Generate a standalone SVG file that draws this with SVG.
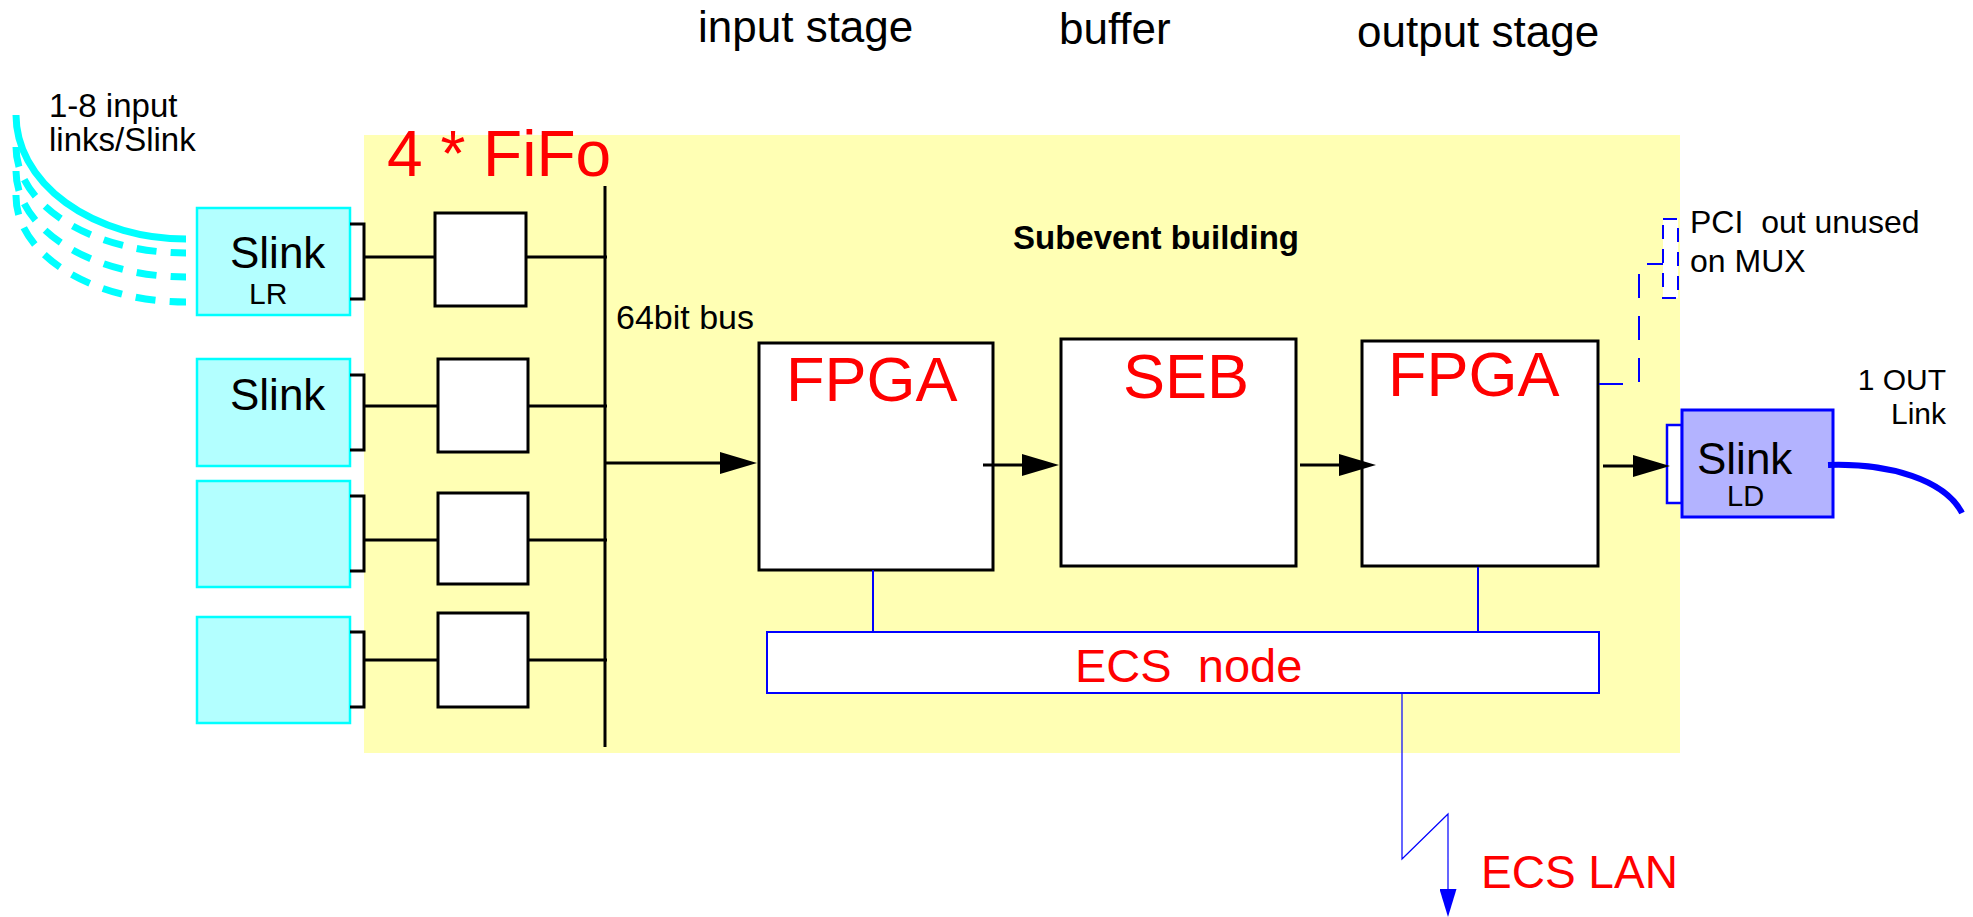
<svg xmlns="http://www.w3.org/2000/svg" width="1973" height="917" viewBox="0 0 1973 917">
<style>
text{font-family:"Liberation Sans",Arial,sans-serif;}
.blk{fill:#000;}
.red{fill:#FF0000;}
.box{fill:#FFFFFF;stroke:#000;stroke-width:3;}
.cy{fill:#B3FFFF;stroke:#00FFFF;stroke-width:2.5;}
.ln{stroke:#000;stroke-width:3;fill:none;}
.bl{stroke:#0000FF;stroke-width:2;fill:none;}
.cyarc{stroke:#00FFFF;stroke-width:7;fill:none;}
.cydash{stroke:#00FFFF;stroke-width:7;fill:none;stroke-dasharray:20 14;}
</style>
<defs>
<marker id="ah" markerUnits="userSpaceOnUse" markerWidth="37" markerHeight="22" refX="7" refY="11" orient="auto" viewBox="0 0 37 22">
<path d="M0,0 L37,11 L0,22 z" fill="#000"/>
</marker>
<marker id="bh" markerUnits="userSpaceOnUse" markerWidth="28" markerHeight="17" refX="8" refY="8.5" orient="auto" viewBox="0 0 28 17">
<path d="M0,0 L28,8.5 L0,17 z" fill="#0000FF"/>
</marker>
</defs>
<rect x="0" y="0" width="1973" height="917" fill="#FFFFFF"/>
<g id="background">
<rect x="364" y="135" width="1316" height="618" fill="#FFFFB4"/>
</g>
<g id="labels">
<text x="698" y="42" font-size="44" class="blk">input stage</text>
<text x="1059" y="44" font-size="44" class="blk">buffer</text>
<text x="1357" y="47" font-size="44" class="blk">output stage</text>
<text x="49" y="117" font-size="33" class="blk">1-8 input</text>
<text x="49" y="151" font-size="33" class="blk">links/Slink</text>
<text x="387" y="176" font-size="64" class="red">4 * FiFo</text>
<text x="1013" y="249" font-size="33" font-weight="bold" class="blk">Subevent building</text>
<text x="616" y="329" font-size="34" class="blk">64bit bus</text>
<text x="1690" y="233" font-size="32" class="blk" xml:space="preserve">PCI  out unused</text>
<text x="1690" y="272" font-size="32" class="blk">on MUX</text>
<text x="1946" y="390" font-size="30" class="blk" text-anchor="end">1 OUT</text>
<text x="1946" y="424" font-size="30" class="blk" text-anchor="end">Link</text>
<text x="1481" y="888" font-size="46" class="red">ECS LAN</text>
</g>
<g id="input-links">
<path class="cyarc" d="M16,115 A170,124 0 0 0 186,239"/>
<path class="cydash" d="M16,147 A170,106 0 0 0 186,253"/>
<path class="cydash" d="M16,171 A170,106 0 0 0 186,277"/>
<path class="cydash" d="M16,195 A170,106 0 0 0 186,302"/>
</g>
<g id="slink1">
<rect class="cy" x="197" y="208" width="153" height="107"/>
<text x="230" y="268" font-size="44" class="blk">Slink</text>
<text x="249" y="304" font-size="30" class="blk">LR</text>
</g>
<g id="slink2">
<rect class="cy" x="197" y="359" width="153" height="107"/>
<text x="230" y="410" font-size="44" class="blk">Slink</text>
</g>
<g id="slink3">
<rect class="cy" x="197" y="481" width="153" height="106"/>
</g>
<g id="slink4">
<rect class="cy" x="197" y="617" width="153" height="106"/>
</g>
<g id="fifo1"><rect class="box" x="435" y="213" width="91" height="93"/></g>
<g id="fifo2"><rect class="box" x="438" y="359" width="90" height="93"/></g>
<g id="fifo3"><rect class="box" x="438" y="493" width="90" height="91"/></g>
<g id="fifo4"><rect class="box" x="438" y="613" width="90" height="94"/></g>
<g id="fpga1">
<rect class="box" x="759" y="343" width="234" height="227"/>
<text x="786" y="401" font-size="63" class="red">FPGA</text>
</g>
<g id="seb">
<rect class="box" x="1061" y="339" width="235" height="227"/>
<text x="1123" y="398" font-size="63" class="red">SEB</text>
</g>
<g id="fpga2">
<rect class="box" x="1362" y="341" width="236" height="225"/>
<text x="1388" y="396" font-size="63" class="red">FPGA</text>
</g>
<g id="pci-out">
<rect x="1663" y="219" width="15" height="79" fill="#FFFFFF" stroke="#0000FF" stroke-width="2" stroke-dasharray="14 10"/>
</g>
<g id="ecs-node">
<rect x="767" y="632" width="832" height="61" fill="#FFFFFF" stroke="#0000FF" stroke-width="2"/>
<text x="1075" y="682" font-size="47" class="red" xml:space="preserve">ECS  node</text>
</g>
<g id="slink-ld">
<rect x="1667" y="425" width="15" height="78" fill="#FFFFFF" stroke="#0000FF" stroke-width="2.5"/>
<rect x="1682" y="410" width="151" height="107" fill="#B3B3FF" stroke="#0000FF" stroke-width="3"/>
<text x="1697" y="474" font-size="44" class="blk">Slink</text>
<text x="1727" y="506" font-size="29" class="blk">LD</text>
</g>
<g id="connectors">
<path class="ln" d="M350,224 H364 V299 H350"/>
<path class="ln" d="M350,375 H364 V450 H350"/>
<path class="ln" d="M350,496 H364 V571 H350"/>
<path class="ln" d="M350,632 H364 V707 H350"/>
<line class="ln" x1="364" y1="257" x2="435" y2="257"/>
<line class="ln" x1="526" y1="257" x2="607" y2="257"/>
<line class="ln" x1="364" y1="406" x2="438" y2="406"/>
<line class="ln" x1="528" y1="406" x2="607" y2="406"/>
<line class="ln" x1="364" y1="540" x2="438" y2="540"/>
<line class="ln" x1="528" y1="540" x2="607" y2="540"/>
<line class="ln" x1="364" y1="660" x2="438" y2="660"/>
<line class="ln" x1="528" y1="660" x2="607" y2="660"/>
<line class="ln" x1="605" y1="186" x2="605" y2="747"/>
<line class="ln" x1="605" y1="463" x2="727" y2="463" marker-end="url(#ah)"/>
<line class="ln" x1="983" y1="465" x2="1029" y2="465" marker-end="url(#ah)"/>
<line class="ln" x1="1300" y1="465" x2="1346" y2="465" marker-end="url(#ah)"/>
<line class="ln" x1="1603" y1="466" x2="1640" y2="466" marker-end="url(#ah)"/>
<path d="M1599,384 H1639 V264 H1663" fill="none" stroke="#0000FF" stroke-width="2" stroke-dasharray="24 18"/>
<line class="bl" x1="873" y1="570" x2="873" y2="632"/>
<line class="bl" x1="1478" y1="567" x2="1478" y2="632"/>
<path d="M1402,693 V859 L1448,814 V897" fill="none" stroke="#0000FF" stroke-width="1.2" marker-end="url(#bh)"/>
<path d="M1828,465 C1890,463 1945,480 1962,513" fill="none" stroke="#0000FF" stroke-width="6"/>
</g>
</svg>
